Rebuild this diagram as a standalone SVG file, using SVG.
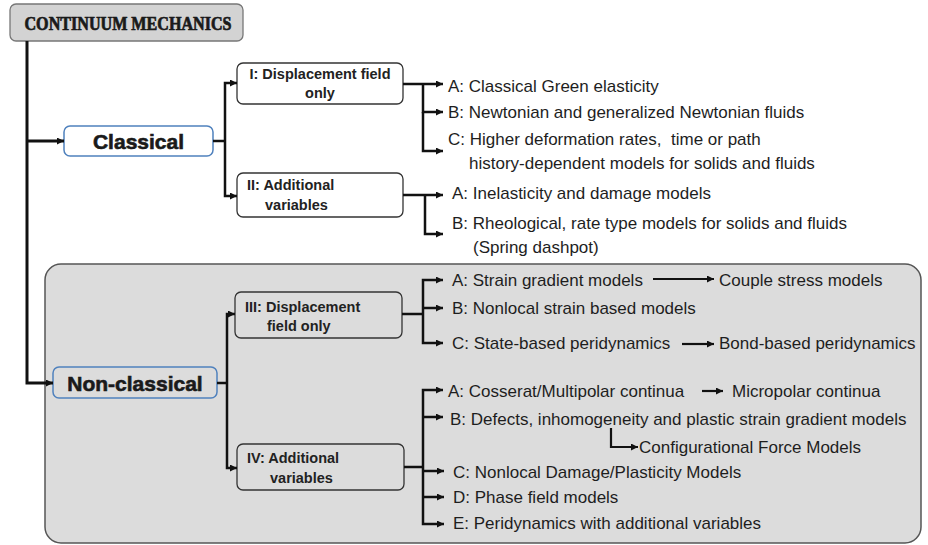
<svg xmlns="http://www.w3.org/2000/svg" width="928" height="545" viewBox="0 0 928 545">
<style>
.ln{fill:none;stroke:#111;stroke-width:2.5;stroke-linejoin:miter}
.ln2{fill:none;stroke:#111;stroke-width:2.2}
.trunk{fill:none;stroke:#111;stroke-width:3}
.t{font-family:"Liberation Sans",Arial,sans-serif;font-size:17px;fill:#1e1e1e}
.bt{font-family:"Liberation Sans",Arial,sans-serif;font-size:14.5px;font-weight:bold;fill:#222}
.big{font-family:"Liberation Sans",Arial,sans-serif;font-size:21px;font-weight:bold;fill:#1a1a1a;stroke:#1a1a1a;stroke-width:0.6;text-anchor:middle}
.wbox{fill:#fff;stroke:#333;stroke-width:1.3}
.gbox{fill:#dcdcdc;stroke:#333;stroke-width:1.3}
.blue{stroke:#4f81bd;stroke-width:1.5}
</style>
<defs>
<marker id="ah" viewBox="0 0 10 10" refX="10" refY="5" markerWidth="8" markerHeight="7" markerUnits="userSpaceOnUse" orient="auto">
<path d="M0,0 L10,5 L0,10 z" fill="#111"/>
</marker>
</defs>

<g id="nonclassical-region">
<rect x="45" y="264" width="876" height="279" rx="16" fill="#dcdcdc" stroke="#555" stroke-width="1.5"/>
</g>

<g id="title">
<rect x="10" y="4" width="233" height="37" rx="6" fill="#d3d3d3" stroke="#777" stroke-width="1.3"/>
<text x="128" y="29.5" text-anchor="middle" textLength="207" lengthAdjust="spacingAndGlyphs" font-family="'Liberation Serif','Times New Roman',serif" font-size="18.5" font-weight="bold" fill="#1a1a1a" stroke="#1a1a1a" stroke-width="0.7">CONTINUUM MECHANICS</text>
</g>

<g id="classical">
<rect x="64" y="126" width="149" height="30" rx="6" class="wbox blue"/>
<text x="138.5" y="148.5" class="big">Classical</text>
</g>

<g id="box-I">
<rect x="237" y="63" width="166" height="41" rx="6" class="wbox"/>
<text x="320" y="79" class="bt" text-anchor="middle">I: Displacement field</text>
<text x="320" y="98" class="bt" text-anchor="middle">only</text>
</g>

<g id="box-II">
<rect x="237" y="173" width="166" height="44" rx="6" class="wbox"/>
<text x="247" y="190" class="bt">II: Additional</text>
<text x="265" y="210" class="bt">variables</text>
</g>

<g id="nonclassical">
<rect x="53" y="367" width="164" height="31" rx="6" class="gbox blue"/>
<text x="135" y="390.5" class="big">Non-classical</text>
</g>

<g id="box-III">
<rect x="235" y="292" width="167" height="46" rx="6" class="gbox"/>
<text x="245" y="312" class="bt">III: Displacement</text>
<text x="267" y="331" class="bt">field only</text>
</g>

<g id="box-IV">
<rect x="237" y="444" width="167" height="46" rx="6" class="gbox"/>
<text x="247" y="463" class="bt">IV: Additional</text>
<text x="270" y="483" class="bt">variables</text>
</g>

<g id="classical-leaves">
<text x="448" y="92" class="t">A: Classical Green elasticity</text>
<text x="448" y="118" class="t">B: Newtonian and generalized Newtonian fluids</text>
<text x="448" y="145" class="t" xml:space="preserve">C: Higher deformation rates,  time or path</text>
<text x="469" y="169" class="t">history-dependent models for solids and fluids</text>
<text x="452" y="199" class="t">A: Inelasticity and damage models</text>
<text x="452" y="229" class="t">B: Rheological, rate type models for solids and fluids</text>
<text x="473" y="253" class="t">(Spring dashpot)</text>
</g>

<g id="nonclassical-leaves">
<text x="452" y="286" class="t">A: Strain gradient models</text>
<text x="719" y="286" class="t">Couple stress models</text>
<text x="452" y="314" class="t">B: Nonlocal strain based models</text>
<text x="452" y="349" class="t">C: State-based peridynamics</text>
<text x="719" y="349" class="t">Bond-based peridynamics</text>
<text x="448" y="397" class="t">A: Cosserat/Multipolar continua</text>
<text x="732" y="397" class="t">Micropolar continua</text>
<text x="450" y="425" class="t">B: Defects, inhomogeneity and plastic strain gradient models</text>
<text x="639" y="453" class="t">Configurational Force Models</text>
<text x="453" y="478" class="t">C: Nonlocal Damage/Plasticity Models</text>
<text x="453" y="503" class="t">D: Phase field models</text>
<text x="453" y="529" class="t">E: Peridynamics with additional variables</text>
</g>

<g id="connectors">
<path class="trunk" d="M27,41 V383 H53" marker-end="url(#ah)"/>
<path class="trunk" d="M27,141 H64" marker-end="url(#ah)"/>
<path class="ln" d="M213,141 H225"/>
<path class="ln" d="M225,141 V83 H237" marker-end="url(#ah)"/>
<path class="ln" d="M225,141 V196 H237" marker-end="url(#ah)"/>
<path class="ln" d="M403,84 H443" marker-end="url(#ah)"/>
<path class="ln" d="M423,84 V112 H443" marker-end="url(#ah)"/>
<path class="ln" d="M423,112 V151 H443" marker-end="url(#ah)"/>
<path class="ln" d="M403,195 H443" marker-end="url(#ah)"/>
<path class="ln" d="M425,195 V234 H443" marker-end="url(#ah)"/>
<path class="ln" d="M217,383 H227"/>
<path class="ln" d="M227,383 V314 H235" marker-end="url(#ah)"/>
<path class="ln" d="M227,383 V468 H237" marker-end="url(#ah)"/>
<path class="ln" d="M402,314 H423"/>
<path class="ln" d="M423,314 V280 H443" marker-end="url(#ah)"/>
<path class="ln" d="M423,308 H443" marker-end="url(#ah)"/>
<path class="ln" d="M423,314 V343 H443" marker-end="url(#ah)"/>
<path class="ln" d="M404,467 H423"/>
<path class="ln" d="M423,467 V390 H443" marker-end="url(#ah)"/>
<path class="ln" d="M423,417 H443" marker-end="url(#ah)"/>
<path class="ln" d="M423,471 H444" marker-end="url(#ah)"/>
<path class="ln" d="M423,497 H444" marker-end="url(#ah)"/>
<path class="ln" d="M423,467 V524 H444" marker-end="url(#ah)"/>
<path class="ln2" d="M653,279 H714" marker-end="url(#ah)"/>
<path class="ln2" d="M682,344 H714" marker-end="url(#ah)"/>
<path class="ln2" d="M702,391 H723" marker-end="url(#ah)"/>
<path class="ln2" d="M611,428 V447 H638" marker-end="url(#ah)"/>
</g>
</svg>
